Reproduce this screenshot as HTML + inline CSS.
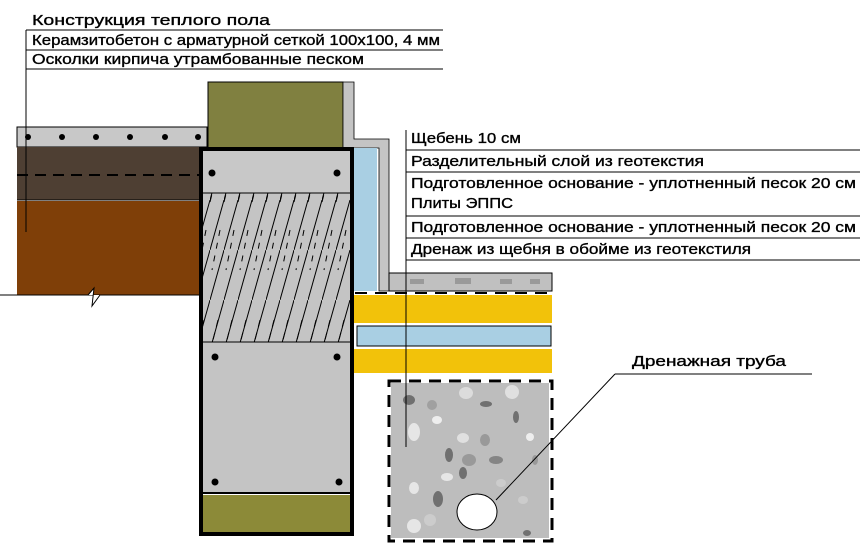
<!DOCTYPE html>
<html><head><meta charset="utf-8"><style>
html,body{margin:0;padding:0;background:#fff;}
svg{display:block;}
text{font-family:"Liberation Sans",Arial,sans-serif;font-size:15px;fill:#000;stroke:#000;stroke-width:0.35;}
</style></head><body>
<svg width="864" height="560" viewBox="0 0 864 560" xmlns="http://www.w3.org/2000/svg">
<defs>
<pattern id="hatch" width="14" height="150" patternUnits="userSpaceOnUse">
<line x1="14" y1="0" x2="0" y2="50" stroke="#000" stroke-width="1"/>
<line x1="8" y1="20" x2="-2" y2="60" stroke="#000" stroke-width="1" stroke-dasharray="7 6"/>
<line x1="14" y1="50" x2="0" y2="100" stroke="#000" stroke-width="1"/>
<line x1="10" y1="80" x2="2" y2="120" stroke="#000" stroke-width="1" stroke-dasharray="6 7"/>
<line x1="14" y1="100" x2="0" y2="150" stroke="#000" stroke-width="1"/>
</pattern>
</defs>

<!-- top labels -->
<text x="32" y="25" textLength="238" lengthAdjust="spacingAndGlyphs">Конструкция теплого пола</text>
<line x1="26" y1="30" x2="443" y2="30" stroke="#000"/>
<text x="32" y="45" textLength="408" lengthAdjust="spacingAndGlyphs">Керамзитобетон с арматурной сеткой 100х100, 4 мм</text>
<line x1="26" y1="50" x2="443" y2="50" stroke="#000"/>
<text x="32" y="64" textLength="332" lengthAdjust="spacingAndGlyphs">Осколки кирпича утрамбованные  песком</text>
<line x1="26" y1="69" x2="443" y2="69" stroke="#000"/>

<!-- floor layers -->
<rect x="17" y="127" width="190" height="20" fill="#c8c8c8" stroke="#000" stroke-width="1"/>
<g fill="#000">
<circle cx="28" cy="137" r="3"/><circle cx="62" cy="137" r="3"/><circle cx="96" cy="137" r="3"/><circle cx="130" cy="137" r="3"/><circle cx="165" cy="137" r="3"/><circle cx="198" cy="137" r="3"/>
</g>
<rect x="17" y="147" width="184" height="53" fill="#4e3f33"/>
<line x1="17" y1="200" x2="201" y2="200" stroke="#000"/>
<rect x="17" y="201" width="184" height="94" fill="#7f3f08"/>
<line x1="17" y1="175" x2="210" y2="175" stroke="#000" stroke-width="2" stroke-dasharray="11 7"/>
<line x1="26" y1="30" x2="26" y2="232" stroke="#000"/>
<line x1="0" y1="295" x2="201" y2="295" stroke="#000"/>
<polyline points="88,295 94,288 92,306 100,295" fill="#fff" stroke="#000"/>

<!-- green top block -->
<rect x="208" y="82" width="135" height="66" fill="#808040" stroke="#000" stroke-width="1"/>
<path d="M343,82 H354 V139 H389 V291 H379 V148 H343 Z" fill="#c4c4c4" stroke="#000" stroke-width="0.8"/>
<rect x="354" y="148" width="23" height="143" fill="#a9cfe3"/>

<!-- wall -->
<rect x="202" y="149" width="149" height="44" fill="#c8c8c8"/>
<rect x="202" y="193" width="149" height="149" fill="#c4c4c4"/>
<rect x="202" y="193" width="149" height="149" fill="url(#hatch)"/>
<rect x="202" y="342" width="149" height="150" fill="#c4c4c4"/>
<rect x="202" y="495" width="149" height="38" fill="#8c8a38"/>
<line x1="202" y1="193" x2="351" y2="193" stroke="#000"/>
<line x1="202" y1="342" x2="351" y2="342" stroke="#000"/>
<line x1="202" y1="493" x2="351" y2="493" stroke="#000" stroke-width="2"/>
<rect x="201" y="149" width="151" height="385" fill="none" stroke="#000" stroke-width="4"/>
<g fill="#000">
<circle cx="212" cy="173" r="3.5"/><circle cx="337" cy="173" r="3.5"/>
<circle cx="215" cy="357" r="3.5"/><circle cx="337" cy="357" r="3.5"/>
<circle cx="215" cy="482" r="3.5"/><circle cx="339" cy="482" r="3.5"/>
</g>

<!-- right layers -->
<rect x="389" y="273" width="163" height="18" fill="#c0c0c0" stroke="#000" stroke-width="1"/>
<g fill="#9a9a9a"><rect x="410" y="279" width="14" height="5"/><rect x="455" y="278" width="16" height="6"/><rect x="500" y="279" width="12" height="5"/><rect x="530" y="279" width="10" height="5"/></g>
<line x1="355" y1="293" x2="552" y2="293" stroke="#000" stroke-width="2" stroke-dasharray="12 8"/>
<rect x="354" y="295" width="198" height="28" fill="#f2c20a"/>
<rect x="357" y="326" width="194" height="20" fill="#a9cfe3" stroke="#000" stroke-width="1"/>
<rect x="354" y="349" width="198" height="24" fill="#f2c20a"/>

<!-- drainage -->
<rect x="391" y="383" width="158" height="155" fill="#bdbdbd"/>
<g>
<ellipse cx="409" cy="400" rx="6" ry="5" fill="#707070"/><ellipse cx="432" cy="405" rx="5" ry="5" fill="#a0a0a0"/>
<ellipse cx="466" cy="393" rx="7" ry="6" fill="#dcdcdc"/><ellipse cx="512" cy="392" rx="7" ry="7" fill="#e0e0e0"/>
<ellipse cx="486" cy="404" rx="6" ry="3" fill="#707070"/><ellipse cx="516" cy="417" rx="3" ry="6" fill="#707070"/>
<ellipse cx="414" cy="432" rx="6" ry="9" fill="#e6e6e6"/><ellipse cx="437" cy="420" rx="5" ry="4" fill="#eee"/>
<ellipse cx="463" cy="438" rx="6" ry="5" fill="#e0e0e0"/><ellipse cx="485" cy="440" rx="5" ry="6" fill="#999"/>
<ellipse cx="449" cy="455" rx="4" ry="7" fill="#707070"/><ellipse cx="469" cy="460" rx="7" ry="6" fill="#999"/>
<ellipse cx="496" cy="460" rx="7" ry="4" fill="#858585"/><ellipse cx="463" cy="473" rx="4" ry="6" fill="#707070"/>
<ellipse cx="447" cy="477" rx="6" ry="4" fill="#e6e6e6"/><ellipse cx="414" cy="488" rx="5" ry="6" fill="#e6e6e6"/>
<ellipse cx="438" cy="499" rx="5" ry="8" fill="#707070"/><ellipse cx="414" cy="526" rx="7" ry="7" fill="#e6e6e6"/>
<ellipse cx="430" cy="520" rx="6" ry="6" fill="#ccc"/><ellipse cx="535" cy="460" rx="3" ry="5" fill="#999"/>
<ellipse cx="530" cy="437" rx="4" ry="4" fill="#eee"/><ellipse cx="523" cy="500" rx="5" ry="4" fill="#ccc"/>
<ellipse cx="527" cy="533" rx="4" ry="3" fill="#707070"/><ellipse cx="501" cy="483" rx="5" ry="4" fill="#ccc"/>
</g>
<rect x="389" y="381" width="163" height="160" fill="none" stroke="#000" stroke-width="3" stroke-dasharray="12 8"/>
<ellipse cx="477" cy="512" rx="20" ry="18" fill="#fff" stroke="#000" stroke-width="1"/>
<line x1="496" y1="500" x2="615" y2="374" stroke="#000" stroke-width="1"/>
<line x1="615" y1="374" x2="812" y2="374" stroke="#000" stroke-width="1"/>
<text x="632" y="366" textLength="154" lengthAdjust="spacingAndGlyphs">Дренажная труба</text>

<!-- right labels -->
<line x1="406" y1="130" x2="406" y2="447" stroke="#000" stroke-width="1"/>
<text x="411" y="143" textLength="110" lengthAdjust="spacingAndGlyphs">Щебень 10 см</text>
<line x1="406" y1="150" x2="860" y2="150" stroke="#000"/>
<text x="411" y="166" textLength="293" lengthAdjust="spacingAndGlyphs">Разделительный слой из геотекстия</text>
<line x1="406" y1="172" x2="860" y2="172" stroke="#000"/>
<text x="411" y="188" textLength="445" lengthAdjust="spacingAndGlyphs">Подготовленное основание - уплотненный песок 20 см</text>
<text x="411" y="208" textLength="102" lengthAdjust="spacingAndGlyphs">Плиты ЭППС</text>
<line x1="406" y1="216" x2="860" y2="216" stroke="#000"/>
<text x="411" y="232" textLength="445" lengthAdjust="spacingAndGlyphs">Подготовленное основание - уплотненный песок 20 см</text>
<line x1="406" y1="238" x2="860" y2="238" stroke="#000"/>
<text x="411" y="254" textLength="340" lengthAdjust="spacingAndGlyphs">Дренаж из щебня в обойме из геотекстиля</text>
<line x1="406" y1="260" x2="860" y2="260" stroke="#000"/>
</svg>
</body></html>
